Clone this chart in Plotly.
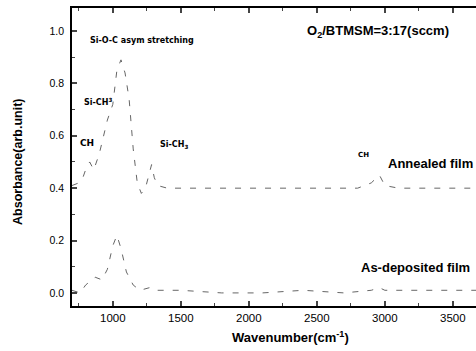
import plotly.graph_objects as go

# Wavenumber (cm^-1) and absorbance
annealed_wn = [700, 750, 780, 800, 830, 860, 900, 930, 960, 1000, 1030, 1060, 1090, 1120,
               1150, 1180, 1210, 1240, 1265, 1285, 1305, 1330, 1400, 1600, 1800, 2000,
               2200, 2400, 2600, 2800, 2900, 2960, 3000, 3100, 3300, 3500, 3680]
annealed_ab = [0.41, 0.42, 0.44, 0.47, 0.50, 0.47, 0.53, 0.60, 0.66, 0.72, 0.85, 0.89, 0.84, 0.74,
               0.55, 0.42, 0.38, 0.40, 0.45, 0.49, 0.44, 0.41, 0.40, 0.40, 0.40, 0.40,
               0.40, 0.40, 0.40, 0.40, 0.42, 0.45, 0.41, 0.40, 0.40, 0.40, 0.40]

asdep_wn = [700, 760, 800, 870, 920, 960, 1000, 1030, 1060, 1100, 1150, 1200, 1270, 1300,
            1500, 1800, 2100, 2400, 2700, 2900, 2960, 3000, 3300, 3680]
asdep_ab = [0.01, 0.00, 0.03, 0.06, 0.05, 0.09, 0.18, 0.22, 0.17, 0.08, 0.03, 0.01, 0.02, 0.01,
            0.01, 0.00, 0.00, 0.01, 0.00, 0.01, 0.02, 0.01, 0.01, 0.01]

x_ticks = [1000, 1500, 2000, 2500, 3000, 3500]
y_ticks = [0.0, 0.2, 0.4, 0.6, 0.8, 1.0]
y_tick_text = ["0.0", "0.2", "0.4", "0.6", "0.8", "1.0"]

LIB = "Liberation Sans, Arial"
DJV = "DejaVu Sans, Liberation Sans"

fig = go.Figure()
fig.add_trace(go.Scatter(x=annealed_wn, y=annealed_ab, mode="lines",
                         line=dict(color="#666", width=1, dash="6px,9px"), showlegend=False))
fig.add_trace(go.Scatter(x=asdep_wn, y=asdep_ab, mode="lines",
                         line=dict(color="#666", width=1, dash="6px,9px"), showlegend=False))

annots = [
    ("<b>Si-O-C asym stretching</b>", 818, 0.962, 8, DJV),
    ("<b>Si-CH<sup>3</sup></b>", 770, 0.728, 8, DJV),
    ("<b>CH</b>", 742, 0.572, 9, DJV),
    ("<b>Si-CH<sub>3</sub></b>", 1330, 0.565, 8, DJV),
    ("<b>O<sub>2</sub>/BTMSM=3:17(sccm)</b>", 2410, 1.0, 13, LIB),
    ("<b>CH</b>", 2790, 0.525, 7, DJV),
    ("<b>Annealed film</b>", 3010, 0.495, 13, LIB),
    ("<b>As-deposited film</b>", 2812, 0.096, 13, LIB),
]
for text, x, y, size, fam in annots:
    fig.add_annotation(x=x, y=y, xref="x", yref="y", text=text, showarrow=False,
                       xanchor="left", yanchor="middle",
                       font=dict(size=size, family=fam, color="black"))

# axis titles (placed as in the scanned figure)
fig.add_annotation(x=0.542, y=-0.104, xref="paper", yref="paper",
                   text="<b>Wavenumber(cm<sup>-1</sup>)</b>", showarrow=False,
                   xanchor="center", yanchor="middle", font=dict(size=13, family=LIB, color="black"))
fig.add_annotation(x=-0.134, y=0.483, xref="paper", yref="paper",
                   text="<b>Absorbance(arb.unit)</b>", showarrow=False, textangle=-90,
                   xanchor="center", yanchor="middle", font=dict(size=12.5, family=LIB, color="black"))

fig.update_layout(
    width=476, height=351,
    margin=dict(l=72, r=0, t=8, b=45),
    plot_bgcolor="white", paper_bgcolor="white",
    font=dict(family=LIB, size=10, color="black"),
)
fig.update_xaxes(
    range=[700, 3670], tickvals=x_ticks, ticks="inside", ticklen=5, tickwidth=1.5,
    showline=True, linecolor="black", linewidth=1.5, mirror="ticks", showgrid=False,
    zeroline=False, tickfont=dict(size=11.5, family=LIB),
    minor=dict(ticks="inside", ticklen=3, dtick=250, tick0=0, tickwidth=1),
)
fig.update_yaxes(
    range=[-0.05, 1.088], tickvals=y_ticks, ticktext=y_tick_text, ticks="inside",
    ticklen=5, tickwidth=1.5, showline=True, linecolor="black", linewidth=1.5,
    showgrid=False, zeroline=False, tickfont=dict(size=10.5, family=LIB),
    ticklabelstandoff=4,
    minor=dict(ticks="inside", ticklen=3, dtick=0.1, tick0=0, tickwidth=1),
)

fig.write_html("out.html")
